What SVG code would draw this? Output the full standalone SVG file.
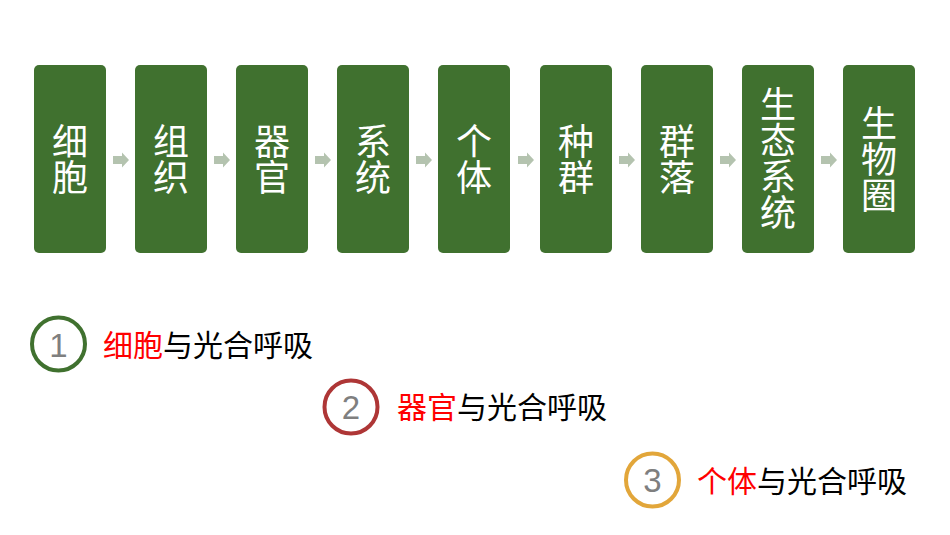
<svg xmlns="http://www.w3.org/2000/svg" width="950" height="535" viewBox="0 0 950 535">
<style>
.box{fill:#40712F;}
.bt{fill:#ffffff;font-family:"Noto Sans CJK SC",sans-serif;font-size:36px;text-anchor:middle;writing-mode:vertical-rl;}
.arr{fill:#B4C3AF;}
.num{fill:#7F7F7F;font-family:"Liberation Sans",Arial,sans-serif;font-size:33px;text-anchor:middle;}
.lab{fill:#000000;font-family:"Noto Sans CJK SC",sans-serif;font-size:30px;}
.red{fill:#FF0000;}
.ring{fill:none;stroke-width:4;}
</style>
<defs>
<path id="ar" d="M0,-4 H9 V-7.5 L16,0 L9,7.5 V4 H0 Z"/>
</defs>
<rect width="950" height="535" fill="#ffffff"/>
<g id="n1"><rect class="box" x="34" y="65" width="72" height="188" rx="5"/><text class="bt" x="70" y="159">细胞</text></g>
<g id="n2"><rect class="box" x="135" y="65" width="72" height="188" rx="5"/><text class="bt" x="171" y="159">组织</text></g>
<g id="n3"><rect class="box" x="236" y="65" width="72" height="188" rx="5"/><text class="bt" x="272" y="159">器官</text></g>
<g id="n4"><rect class="box" x="337" y="65" width="72" height="188" rx="5"/><text class="bt" x="373" y="159">系统</text></g>
<g id="n5"><rect class="box" x="438" y="65" width="72" height="188" rx="5"/><text class="bt" x="474" y="159">个体</text></g>
<g id="n6"><rect class="box" x="540" y="65" width="72" height="188" rx="5"/><text class="bt" x="576" y="159">种群</text></g>
<g id="n7"><rect class="box" x="641" y="65" width="72" height="188" rx="5"/><text class="bt" x="677" y="159">群落</text></g>
<g id="n8"><rect class="box" x="742" y="65" width="72" height="188" rx="5"/><text class="bt" x="778" y="158">生态系统</text></g>
<g id="n9"><rect class="box" x="843" y="65" width="72" height="188" rx="5"/><text class="bt" x="879" y="159">生物圈</text></g>
<g id="connectors">
<use href="#ar" class="arr" x="113" y="160"/>
<use href="#ar" class="arr" x="214" y="160"/>
<use href="#ar" class="arr" x="315" y="160"/>
<use href="#ar" class="arr" x="416" y="160"/>
<use href="#ar" class="arr" x="518" y="160"/>
<use href="#ar" class="arr" x="619" y="160"/>
<use href="#ar" class="arr" x="720" y="160"/>
<use href="#ar" class="arr" x="821" y="160"/>
</g>
<g id="item1"><circle class="ring" cx="58.5" cy="344" r="26.5" stroke="#40712F"/><text class="num" x="58.5" y="357">1</text><text class="lab" x="103" y="356"><tspan class="red">细胞</tspan>与光合呼吸</text></g>
<g id="item2"><circle class="ring" cx="351" cy="407" r="26.5" stroke="#AE3636"/><text class="num" x="351" y="419">2</text><text class="lab" x="397" y="418"><tspan class="red">器官</tspan>与光合呼吸</text></g>
<g id="item3"><circle class="ring" cx="652.5" cy="480" r="26.5" stroke="#E2A63A"/><text class="num" x="652.5" y="492">3</text><text class="lab" x="697" y="492"><tspan class="red">个体</tspan>与光合呼吸</text></g>
</svg>
